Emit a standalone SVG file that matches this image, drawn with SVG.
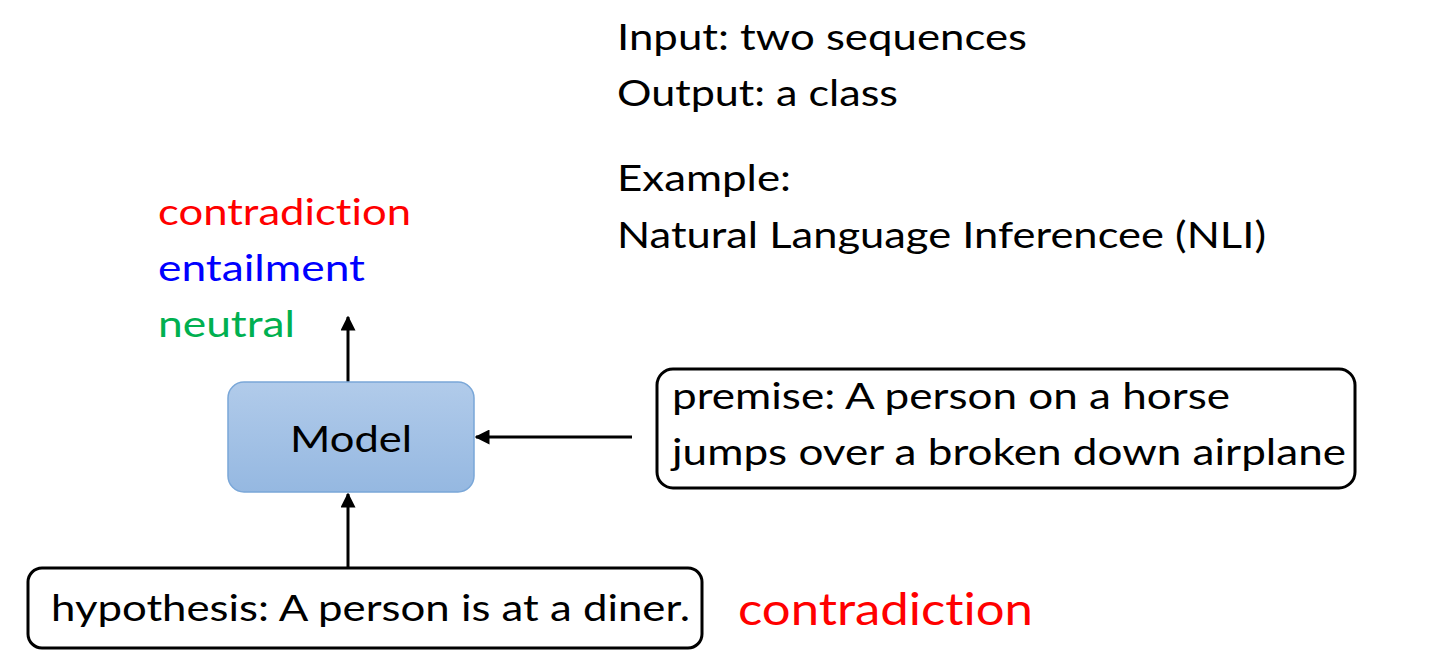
<svg xmlns="http://www.w3.org/2000/svg" width="1444" height="665" viewBox="0 0 1444 665">
  <defs>
    <linearGradient id="modelFill" x1="0" y1="0" x2="0" y2="1">
      <stop offset="0" stop-color="#b1cbea"/>
      <stop offset="1" stop-color="#95b8e1"/>
    </linearGradient>
    <marker id="arrow" viewBox="0 0 10 10" refX="9" refY="5" markerWidth="5" markerHeight="5" orient="auto" markerUnits="strokeWidth">
      <path d="M0,0 L10,5 L0,10 z" fill="#000"/>
    </marker>
    <style>
      text { font-family: Lato, "Liberation Sans", sans-serif; fill: #000; font-variant-ligatures: none; }
      .t { font-size: 37px; }
      .box { fill: #fff; stroke: #000; stroke-width: 3; }
      .conn { stroke: #000; stroke-width: 3; fill: none; marker-end: url(#arrow); }
    </style>
  </defs>
  <rect width="1444" height="665" fill="#fff"/>

  <!-- task description -->
  <g id="description">
    <text class="t" x="617" y="50" textLength="410" lengthAdjust="spacingAndGlyphs">Input: two sequences</text>
    <text class="t" x="617" y="106" textLength="281" lengthAdjust="spacingAndGlyphs">Output: a class</text>
    <text class="t" x="617" y="191" textLength="174" lengthAdjust="spacingAndGlyphs">Example:</text>
    <text class="t" x="617" y="248" textLength="649" lengthAdjust="spacingAndGlyphs">Natural Language Inferencee (NLI)</text>
  </g>

  <!-- output classes -->
  <g id="classes">
    <text class="t" x="158" y="225" textLength="253" lengthAdjust="spacingAndGlyphs" style="fill:#ff0000">contradiction</text>
    <text class="t" x="158" y="281" textLength="207" lengthAdjust="spacingAndGlyphs" style="fill:#0000ff">entailment</text>
    <text class="t" x="158" y="337" textLength="137" lengthAdjust="spacingAndGlyphs" style="fill:#00b050">neutral</text>
  </g>

  <!-- connectors -->
  <g id="connectors">
    <line class="conn" x1="348" y1="382" x2="348" y2="317"/>
    <line class="conn" x1="632" y1="437" x2="476" y2="437"/>
    <line class="conn" x1="348" y1="568" x2="348" y2="494"/>
  </g>

  <g id="model">
    <rect x="228" y="382" width="246" height="110" rx="16" fill="url(#modelFill)" stroke="#7aa7d8" stroke-width="1.5"/>
    <text class="t" x="351" y="452" text-anchor="middle" textLength="122" lengthAdjust="spacingAndGlyphs">Model</text>
  </g>

  <g id="premise">
    <rect class="box" x="657" y="369" width="698" height="119" rx="16"/>
    <text class="t" x="672" y="409" textLength="558" lengthAdjust="spacingAndGlyphs">premise: A person on a horse</text>
    <text class="t" x="672" y="465" textLength="674" lengthAdjust="spacingAndGlyphs">jumps over a broken down airplane</text>
  </g>

  <g id="hypothesis">
    <rect class="box" x="28" y="568" width="674" height="80" rx="14"/>
    <text class="t" x="51" y="621" textLength="639" lengthAdjust="spacingAndGlyphs">hypothesis: A person is at a diner.</text>
  </g>

  <g id="answer">
    <text x="738" y="625" font-size="45" textLength="295" lengthAdjust="spacingAndGlyphs" style="fill:#ff0000">contradiction</text>
  </g>
</svg>
